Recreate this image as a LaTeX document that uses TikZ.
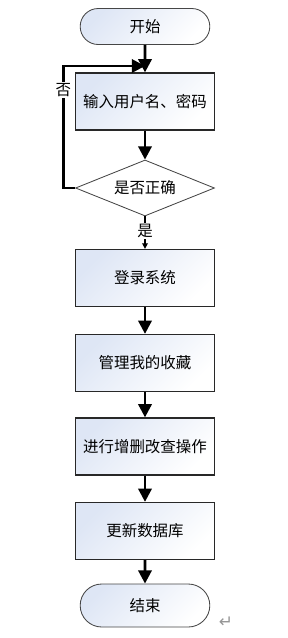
\documentclass[tikz,border=0pt]{standalone}
\usepackage{fontspec}
\setmainfont{Noto Sans CJK SC}
\newfontfamily\symfont{DejaVu Sans}
\usepackage{xcolor}
\usepackage{tikz}
\usetikzlibrary{arrows.meta,positioning,shapes.geometric,shapes.misc}
\definecolor{boxfill}{RGB}{222,230,245}
\definecolor{boxborder}{RGB}{40,40,40}
\definecolor{termborder}{RGB}{70,70,70}
\definecolor{arrowc}{RGB}{0,0,0}
\definecolor{markc}{RGB}{150,150,150}

\begin{document}
\begin{tikzpicture}[
  font=\fontsize{11}{13}\selectfont,
  box/.style={
    draw=boxborder, line width=0.9pt, align=center,
    minimum width=3.475cm, minimum height=1.425cm,
    left color=boxfill, right color=white, shading angle=45, text=black
  },
  term/.style={rounded rectangle, draw=termborder, line width=0.6pt,
    minimum width=3.475cm, left color=boxfill, right color=white,
    shading angle=45, text=black},
  dec/.style={diamond, aspect=2.5, draw=termborder, line width=0.6pt,
    minimum width=3.475cm, minimum height=1.4cm, inner sep=1pt, fill=white},
  arr/.style={-{Triangle[width=0.33cm,length=0.33cm]}, line width=2pt, color=arrowc},
  sarr/.style={-{Triangle[width=0.14cm,length=0.14cm]}, line width=1.6pt, color=arrowc},
  lab/.style={fill=white, inner sep=1pt, text=black}
]
\useasboundingbox (0,0) rectangle (7.2,-15.95);

% ---- Login ----
\node[term, minimum height=0.9cm] (start) at (3.625,-0.6625) {开始};
\node[box] (input) at (3.625,-2.5375) {输入用户名、密码};
\node[dec] (check) at (3.625,-4.7) {是否正确};
\coordinate (join) at (3.625,-1.65);

% ---- Main steps ----
\node[box] (login) at (3.625,-6.95) {登录系统};
\node[box] (fav) at (3.625,-9.075) {管理我的收藏};
\node[box] (crud) at (3.625,-11.1625) {进行增删改查操作};
\node[box] (update) at (3.625,-13.275) {更新数据库};
\node[term, minimum height=1.075cm] (stop) at (3.625,-15.1375) {结束};
\node[text=markc, font=\symfont\fontsize{12}{14}\selectfont] (mark) at (5.65,-15.55) {↵};

% ---- Arrows ----
\draw[arr] (start) -- (input);
\draw[arr] (input) -- (check);
\draw[arr] (check.west) -- ++(-0.29,0) |- node[lab,pos=0.4]{否} (join);
\draw[sarr] (check) -- node[lab,pos=0.45]{是} (login);
\draw[arr] (login) -- (fav);
\draw[arr] (fav) -- (crud);
\draw[arr] (crud) -- (update);
\draw[arr] (update) -- (stop);

\end{tikzpicture}
\end{document}
